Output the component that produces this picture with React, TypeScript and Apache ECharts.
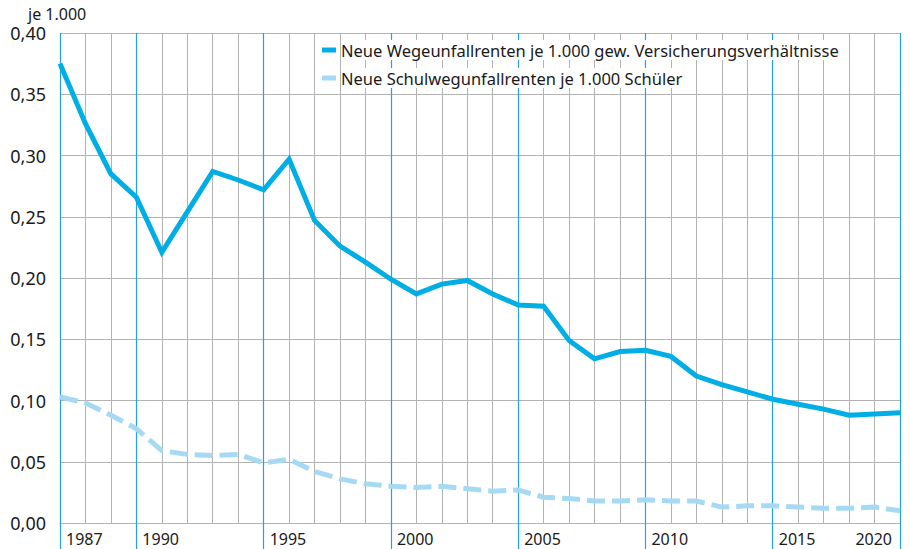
import React, { useEffect, useRef } from "react";
import * as echarts from "echarts";

const years = [
  "1987", "1988", "1989", "1990", "1991", "1992", "1993", "1994", "1995", "1996",
  "1997", "1998", "1999", "2000", "2001", "2002", "2003", "2004", "2005", "2006",
  "2007", "2008", "2009", "2010", "2011", "2012", "2013", "2014", "2015", "2016",
  "2017", "2018", "2019", "2020",
];

const wegeunfall = [
  0.375, 0.326, 0.285, 0.266, 0.221, 0.254, 0.287, 0.28, 0.272, 0.297,
  0.247, 0.226, 0.213, 0.199, 0.187, 0.195, 0.198, 0.187, 0.178, 0.177,
  0.149, 0.134, 0.14, 0.141, 0.136, 0.12, 0.113, 0.107, 0.101, 0.097,
  0.093, 0.088, 0.089, 0.09,
];

const schulweg = [
  0.103, 0.098, 0.088, 0.077, 0.059, 0.056, 0.055, 0.056, 0.049, 0.052,
  0.042, 0.036, 0.032, 0.03, 0.029, 0.03, 0.028, 0.026, 0.027, 0.021,
  0.02, 0.018, 0.018, 0.019, 0.018, 0.018, 0.013, 0.014, 0.014, 0.013,
  0.012, 0.012, 0.013, 0.01,
];

const seriesNames = [
  "Neue Wegeunfallrenten je 1.000 gew. Versicherungsverhältnisse",
  "Neue Schulwegunfallrenten je 1.000 Schüler",
];

const leftLabelYears = ["1987", "1990", "1995", "2000", "2005", "2010", "2015"];
const rightLabelYears = ["2020"];
const blueLineYears = ["1987", "1990", "1995", "2000", "2005", "2010", "2015", "2020"];
const unitLabel = "je 1.000";

const FONT = "'Noto Sans', 'Open Sans', sans-serif";
const DARK = "#00aee6";
const LIGHT = "#a6daf4";
const BLUE_LINE = "#1ea5df";
const GRID = "#b3b3b3";

export default function App() {
  const ref = useRef<HTMLDivElement>(null);

  useEffect(() => {
    if (!ref.current) return;
    document.body.style.margin = "0";
    const chart = echarts.init(ref.current, undefined, { renderer: "svg" });
    const isBlue = (i: number) => blueLineYears.includes(years[i]);
    chart.setOption({
      animation: false,
      backgroundColor: "#ffffff",
      textStyle: { fontFamily: FONT },
      grid: { left: 60, right: 6, top: 33, bottom: 26, containLabel: false },
      graphic: [
        {
          type: "text",
          left: 28,
          top: 6,
          style: { text: unitLabel, fontFamily: FONT, fontSize: 16, fill: "#1a1a1a" },
        },
      ],
      legend: {
        orient: "vertical",
        left: 317,
        top: 35,
        itemWidth: 14,
        itemHeight: 5,
        itemGap: 8,
        icon: "rect",
        textStyle: {
          fontFamily: FONT,
          fontSize: 16.5,
          color: "#1a1a1a",
          lineHeight: 20,
          backgroundColor: "#ffffff",
        },
        data: seriesNames,
      },
      xAxis: [
        {
          type: "category",
          data: years,
          boundaryGap: false,
          z: 0,
          axisLine: { show: true, lineStyle: { color: GRID, width: 1 } },
          axisTick: { show: false },
          splitLine: { show: true, interval: 0, lineStyle: { color: GRID, width: 1 } },
          axisLabel: {
            interval: 0,
            formatter: (v: string) => (leftLabelYears.includes(v) ? v : ""),
            align: "left",
            padding: [0, 0, 0, 6],
            margin: 7,
            lineHeight: 18,
            fontFamily: FONT,
            fontSize: 16,
            color: "#1a1a1a",
          },
        },
        {
          type: "category",
          data: years,
          boundaryGap: false,
          position: "bottom",
          z: 1,
          axisLine: { show: false },
          axisTick: {
            show: true,
            interval: (i: number) => isBlue(i),
            length: 26,
            lineStyle: { color: BLUE_LINE, width: 1.2 },
          },
          splitLine: {
            show: true,
            interval: (i: number) => isBlue(i),
            lineStyle: { color: BLUE_LINE, width: 1.2 },
          },
          axisLabel: {
            interval: 0,
            formatter: (v: string) => (rightLabelYears.includes(v) ? v : ""),
            align: "right",
            padding: [0, 8, 0, 0],
            margin: 7,
            lineHeight: 18,
            fontFamily: FONT,
            fontSize: 16,
            color: "#1a1a1a",
          },
        },
      ],
      yAxis: {
        type: "value",
        min: 0,
        max: 0.4,
        interval: 0.05,
        axisLine: { show: false },
        axisTick: { show: false },
        splitLine: { show: true, lineStyle: { color: GRID, width: 1 } },
        axisLabel: {
          margin: 14,
          fontFamily: FONT,
          fontSize: 18,
          color: "#1a1a1a",
          formatter: (v: number) => v.toFixed(2).replace(".", ","),
        },
      },
      series: [
        {
          name: seriesNames[0],
          type: "line",
          xAxisIndex: 0,
          data: wegeunfall,
          symbol: "none",
          z: 3,
          lineStyle: { color: DARK, width: 5, join: "miter" },
          itemStyle: { color: DARK },
        },
        {
          name: seriesNames[1],
          type: "line",
          xAxisIndex: 0,
          data: schulweg,
          symbol: "none",
          z: 3,
          lineStyle: { color: LIGHT, width: 5, type: [18, 7] },
          itemStyle: { color: LIGHT },
        },
      ],
    });
    return () => chart.dispose();
  }, []);

  return (
    <div
      ref={ref}
      style={{ width: 909, height: 549, position: "fixed", left: 0, top: 0 }}
    />
  );
}
